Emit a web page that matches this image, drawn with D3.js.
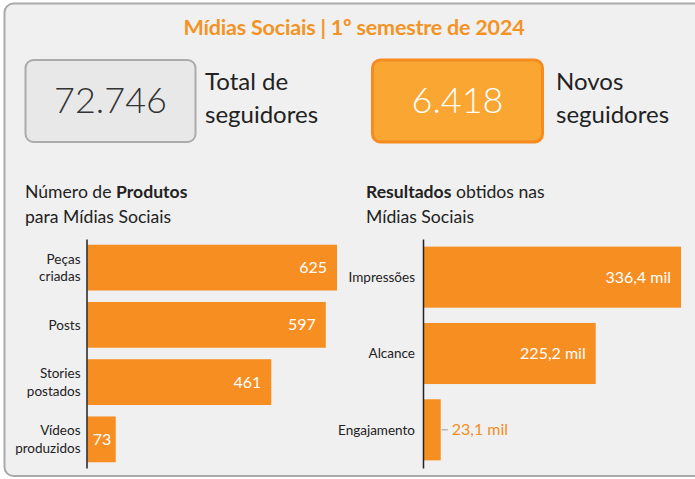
<!DOCTYPE html>
<html>
<head>
<meta charset="utf-8">
<script src="https://cdn.jsdelivr.net/npm/d3@7"></script>
<style>
  html, body { margin: 0; padding: 0; background: #ffffff; }
  svg { display: block; font-family: Lato, "Noto Sans", sans-serif; }
</style>
</head>
<body>
<svg id="chart" width="695" height="479"></svg>
<script>
// Headline figures
const titleText = "Mídias Sociais | 1º semestre de 2024";
const totalFollowers = 72746;
const newFollowers = 6418;
const totalLabel = ["Total de", "seguidores"];
const newLabel = ["Novos", "seguidores"];

// Products made for social media
const productCategories = ["Peças criadas", "Posts", "Stories postados", "Vídeos produzidos"];
const productValues = [625, 597, 461, 73];

// Results obtained (thousands)
const resultCategories = ["Impressões", "Alcance", "Engajamento"];
const resultValues = [336.4, 225.2, 23.1];

const ptBR = d3.formatLocale({ decimal: ",", thousands: ".", grouping: [3], currency: ["R$", ""] });
const fmtInt = ptBR.format(",d");
const fmtMil = v => ptBR.format(",.1f")(v) + " mil";

const ORANGE = "#F68E22";
const svg = d3.select("#chart");

// Panel
svg.append("rect")
  .attr("x", 4.5).attr("y", 3.5)
  .attr("width", 730).attr("height", 472.5)
  .attr("rx", 9)
  .attr("fill", "#f0f0f0")
  .attr("stroke", "#a9a9a9")
  .attr("stroke-width", 2);

// Title
svg.append("text")
  .attr("x", 354).attr("y", 35)
  .attr("text-anchor", "middle")
  .attr("fill", "#F39325")
  .attr("font-size", 21.5)
  .attr("font-weight", 700)
  .attr("letter-spacing", -0.2)
  .text(titleText);

// KPI boxes
function kpi(x, value, fill, stroke, sw, color, label, labelX) {
  svg.append("rect")
    .attr("x", x).attr("y", 60)
    .attr("width", 170).attr("height", 82)
    .attr("rx", 8)
    .attr("fill", fill)
    .attr("stroke", stroke)
    .attr("stroke-width", sw);
  svg.append("text")
    .attr("x", x + 85).attr("y", 113)
    .attr("text-anchor", "middle")
    .attr("fill", color)
    .attr("font-size", 36)
    .attr("font-weight", 300)
    .text(fmtInt(value));
  const t = svg.append("text")
    .attr("x", labelX).attr("y", 90)
    .attr("fill", "#222")
    .attr("font-size", 24);
  label.forEach((l, i) => t.append("tspan").attr("x", labelX).attr("dy", i ? 33 : 0).text(l));
}
kpi(25.5, totalFollowers, "#e8e8e8", "#ababab", 2, "#333", totalLabel, 205);
kpi(372.5, newFollowers, "#F9A632", "#F68B1F", 3, "#ffffff", newLabel, 556);

// Section headings
function heading(x, parts) {
  parts.forEach((line, i) => {
    const t = svg.append("text")
      .attr("x", x).attr("y", 198 + i * 25)
      .attr("fill", "#222")
      .attr("font-size", 17.6);
    line.forEach(p => t.append("tspan").attr("font-weight", p[1] ? 700 : 400).text(p[0]));
  });
}
heading(25, [[["Número de ", false], ["Produtos", true]], [["para Mídias Sociais", false]]]);
heading(366, [[["Resultados", true], [" obtidos nas", false]], [["Mídias Sociais", false]]]);

// Horizontal bar chart helper
function barChart(cats, vals, xRange, yRange, fmt, axisPad, wrap) {
  const x = d3.scaleLinear().domain([0, d3.max(vals)]).range(xRange);
  const y = d3.scaleBand().domain(cats).range(yRange).paddingInner(0.2).paddingOuter(0.1);
  const data = cats.map((c, i) => ({ c, v: vals[i] }));
  const g = svg.append("g");

  g.selectAll("rect.bar").data(data).join("rect")
    .attr("class", "bar")
    .attr("x", x(0) + 1)
    .attr("y", d => y(d.c))
    .attr("width", d => x(d.v) - x(0) - 1)
    .attr("height", y.bandwidth())
    .attr("fill", ORANGE);

  const axis = g.append("g")
    .attr("transform", `translate(${x(0)},0)`)
    .call(d3.axisLeft(y).tickSize(0).tickSizeOuter(0).tickPadding(axisPad));
  axis.select(".domain").attr("stroke", "#222").attr("stroke-width", 1.5);
  axis.selectAll(".tick text")
    .attr("font-size", 13.5)
    .attr("fill", "#222")
    .attr("font-family", "Lato, sans-serif")
    .each(function (d) {
      const el = d3.select(this);
      const words = wrap ? d.split(" ") : [d];
      el.text(null).attr("dy", null);
      words.forEach((w, i) => {
        el.append("tspan")
          .attr("x", -axisPad)
          .attr("dy", i === 0 ? `${0.35 - (words.length - 1) * 0.65}em` : "1.3em")
          .text(w);
      });
    });

  // Value labels: inside the bar when there is room, outside with a leader otherwise
  data.forEach(d => {
    const w = x(d.v) - x(0);
    const cy = y(d.c) + y.bandwidth() / 2;
    const label = fmt(d.v);
    if (w > 60) {
      g.append("text").attr("x", x(d.v) - 10).attr("y", cy).attr("dy", "0.35em")
        .attr("text-anchor", "end").attr("fill", "#fff").attr("font-size", 16).text(label);
    } else if (w > 25) {
      g.append("text").attr("x", x(0) + w / 2 + 1).attr("y", cy).attr("dy", "0.35em")
        .attr("text-anchor", "middle").attr("fill", "#fff").attr("font-size", 16).text(label);
    } else {
      g.append("line").attr("x1", x(d.v) + 1).attr("x2", x(d.v) + 7)
        .attr("y1", cy).attr("y2", cy).attr("stroke", "#999").attr("stroke-width", 1);
      g.append("text").attr("x", x(d.v) + 11).attr("y", cy).attr("dy", "0.35em")
        .attr("fill", ORANGE).attr("font-size", 16).text(label);
    }
  });
}

barChart(productCategories, productValues, [86.5, 337], [239, 468], fmtInt, 6, true);
barChart(resultCategories, resultValues, [423, 681], [239, 468], fmtMil, 8, false);
</script>
</body>
</html>
